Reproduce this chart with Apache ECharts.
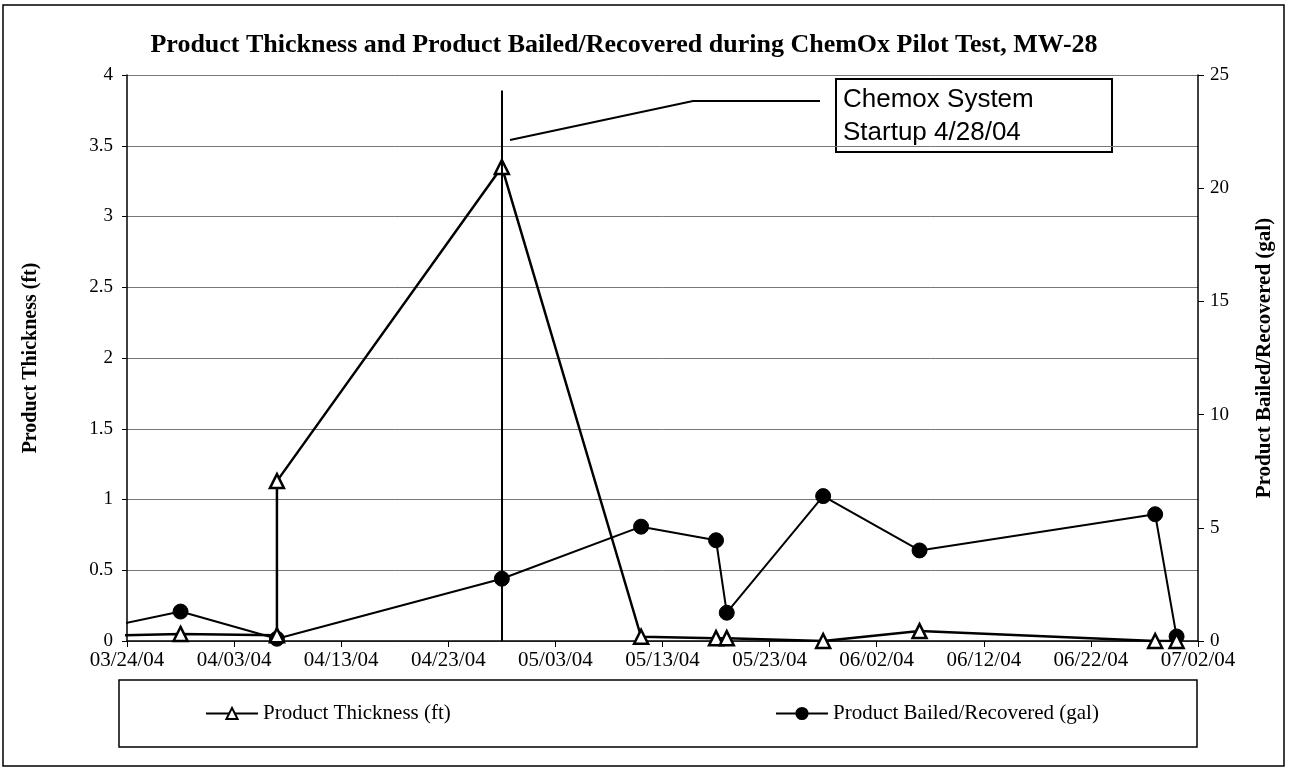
<!DOCTYPE html>
<html>
<head>
<meta charset="utf-8">
<script src="https://cdn.jsdelivr.net/npm/echarts@6/dist/echarts.min.js"></script>
<style>
  html, body { margin: 0; padding: 0; background: #fff; }
  #chart { width: 1289px; height: 774px; }
</style>
</head>
<body>
<div id="chart"></div>
<script>
// start of the x axis, everything is placed as days after this date
const startDate = '2004-03-24';
const endDate = '2004-07-02';

// Product Thickness (ft)
const thicknessDates = ['2004-03-17', '2004-03-29', '2004-04-07', '2004-04-07', '2004-04-28', '2004-05-11',
    '2004-05-18', '2004-05-19', '2004-05-28', '2004-06-06', '2004-06-28', '2004-06-30'];
const thicknessValues = [0.03, 0.05, 0.04, 1.13, 3.35, 0.03, 0.02, 0.02, 0.0, 0.07, 0.0, 0.0];

// Product Bailed/Recovered (gal)
const bailedDates = ['2004-03-17', '2004-03-29', '2004-04-07', '2004-04-28', '2004-05-11', '2004-05-18',
    '2004-05-19', '2004-05-28', '2004-06-06', '2004-06-28', '2004-06-30'];
const bailedValues = [0.1, 1.3, 0.1, 2.75, 5.05, 4.45, 1.25, 6.4, 4.0, 5.6, 0.2];

const startupDate = '2004-04-28';
const leftTicks = [0, 4, 0.5];    // min, max, interval
const rightTicks = [0, 25, 5];

const DAY = 86400000;
const toDays = (s) => Math.round((Date.parse(s) - Date.parse(startDate)) / DAY);
const pad = (n) => (n < 10 ? '0' : '') + n;
const fmtDay = (d) => {
    const dt = new Date(Date.parse(startDate) + d * DAY);
    return pad(dt.getUTCMonth() + 1) + '/' + pad(dt.getUTCDate()) + '/' + String(dt.getUTCFullYear()).slice(2);
};

const serif = 'Liberation Serif, Times New Roman, serif';
const sans = 'Liberation Sans, Arial, sans-serif';

const chart = echarts.init(document.getElementById('chart'));
chart.setOption({
    animation: false,
    backgroundColor: '#fff',
    grid: { left: 127, right: 91, top: 75, bottom: 133 },
    legend: [
        {
            data: ['Product Thickness (ft)'], left: 205, top: 703, padding: 0,
            itemWidth: 52, itemHeight: 14, itemGap: 6,
            textStyle: { fontFamily: serif, fontSize: 21, color: '#000' }
        },
        {
            data: ['Product Bailed/Recovered (gal)'], left: 775, top: 703, padding: 0,
            itemWidth: 52, itemHeight: 14,
            textStyle: { fontFamily: serif, fontSize: 21, color: '#000' }
        }
    ],
    xAxis: {
        type: 'value',
        min: toDays(startDate), max: toDays(endDate), interval: 10,
        axisLine: { lineStyle: { color: '#000', width: 1.5 } },
        axisTick: { show: true, length: 6, lineStyle: { color: '#000' } },
        axisLabel: { formatter: fmtDay, color: '#000', fontFamily: serif, fontSize: 21, margin: 9 },
        splitLine: { show: false }
    },
    yAxis: [
        {
            type: 'value', min: leftTicks[0], max: leftTicks[1], interval: leftTicks[2],
            name: 'Product Thickness (ft)', nameLocation: 'middle', nameGap: 86,
            nameTextStyle: { fontFamily: serif, fontSize: 20, fontWeight: 'bold', color: '#000' },
            axisLine: { show: true, lineStyle: { color: '#000', width: 1.5 } },
            axisTick: { show: true, length: 5, lineStyle: { color: '#000' } },
            axisLabel: { color: '#000', fontFamily: serif, fontSize: 19, margin: 14 },
            splitLine: { show: true, lineStyle: { color: '#777', width: 1 } }
        },
        {
            type: 'value', min: rightTicks[0], max: rightTicks[1], interval: rightTicks[2],
            position: 'right',
            name: 'Product Bailed/Recovered (gal)', nameLocation: 'middle', nameGap: 56, nameRotate: 90,
            nameTextStyle: { fontFamily: serif, fontSize: 21, fontWeight: 'bold', color: '#000' },
            axisLine: { show: true, lineStyle: { color: '#000', width: 1.5 } },
            axisTick: { show: true, length: 6, lineStyle: { color: '#000' } },
            axisLabel: { color: '#000', fontFamily: serif, fontSize: 19, margin: 12 },
            splitLine: { show: false }
        }
    ],
    series: [
        {
            name: 'Product Thickness (ft)',
            type: 'line', yAxisIndex: 0, z: 3,
            data: thicknessDates.map((d, i) => [toDays(d), thicknessValues[i]]),
            symbol: 'triangle', symbolSize: 14,
            lineStyle: { color: '#000', width: 2.5 },
            itemStyle: { color: '#fff', borderColor: '#000', borderWidth: 2.5 },
            markLine: {
                silent: true, symbol: ['none', 'none'], label: { show: false },
                lineStyle: { color: '#000', width: 2, type: 'solid' },
                data: [[{ coord: [toDays(startupDate), 0] }, { coord: [toDays(startupDate), 3.89] }]]
            }
        },
        {
            name: 'Product Bailed/Recovered (gal)',
            type: 'line', yAxisIndex: 1, z: 2,
            data: bailedDates.map((d, i) => [toDays(d), bailedValues[i]]),
            symbol: 'circle', symbolSize: 15,
            lineStyle: { color: '#000', width: 2 },
            itemStyle: { color: '#000', borderColor: '#000', borderWidth: 1 }
        }
    ],
    graphic: [
        // outer frame
        { type: 'rect', shape: { x: 3, y: 5, width: 1281, height: 761 }, style: { fill: null, stroke: '#000', lineWidth: 1.5 }, silent: true },
        // title
        {
            type: 'text', x: 624, y: 45,
            style: {
                text: 'Product Thickness and Product Bailed/Recovered during ChemOx Pilot Test, MW-28',
                font: 'bold 26px ' + serif, fill: '#000', align: 'center', verticalAlign: 'middle'
            }
        },
        // legend frame
        { type: 'rect', shape: { x: 119, y: 680, width: 1078, height: 67 }, style: { fill: null, stroke: '#000', lineWidth: 1.5 }, silent: true },
        // startup callout
        {
            type: 'polyline', shape: { points: [[510, 140], [693, 101], [820, 101]] },
            style: { stroke: '#000', lineWidth: 2, fill: null }, silent: true
        },
        { type: 'rect', shape: { x: 836, y: 79, width: 276, height: 73 }, style: { fill: '#fff', stroke: '#000', lineWidth: 2 }, silent: true },
        {
            type: 'text', x: 843, y: 83,
            style: { text: 'Chemox System\nStartup 4/28/04', font: '26px ' + sans, fill: '#000', lineHeight: 33 }
        }
    ]
});
</script>
</body>
</html>
